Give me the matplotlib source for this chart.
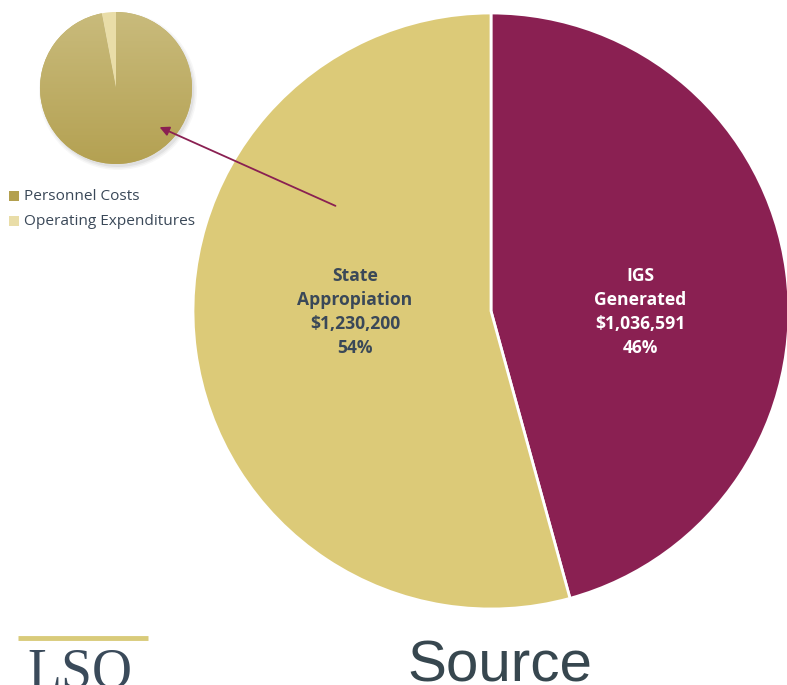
import matplotlib
matplotlib.use("Agg")
import matplotlib.pyplot as plt
import numpy as np
from matplotlib.colors import LinearSegmentedColormap
from matplotlib.patches import Rectangle, Circle

# Data
main_labels = ["IGS\nGenerated\n$1,036,591\n46%", "State\nAppropiation\n$1,230,200\n54%"]
main_values = [1036591, 1230200]
main_colors = ["#8A2052", "#DCCA78"]
sub_labels = ["Personnel Costs", "Operating Expenditures"]
sub_values = [97, 3]
sub_colors = ["#BFAE62", "#E9DDA8"]

W, H = 787, 685
fig = plt.figure(figsize=(7.87, 6.85), dpi=100)
ax = fig.add_axes([0, 0, 1, 1])

# Main pie
wedges, _ = ax.pie(main_values, colors=main_colors, startangle=90, counterclock=False,
                   center=(491, H - 311), radius=298,
                   wedgeprops=dict(edgecolor="white", linewidth=2))

# Small pie shadow
for i, a in enumerate([0.05, 0.04, 0.03]):
    ax.add_patch(Circle((118, H - 91), 76 + i * 1.5, color="#000000", alpha=a, lw=0, zorder=0.5))

swedges, _ = ax.pie(sub_values, colors=sub_colors, startangle=90, counterclock=False,
                    center=(116, H - 88), radius=76,
                    wedgeprops=dict(edgecolor="none", linewidth=0))
# gradient on personnel wedge
cmap = LinearSegmentedColormap.from_list("g", ["#C9BB7C", "#B4A152"])
grad = np.linspace(0, 1, 256).reshape(-1, 1)
im = ax.imshow(grad, cmap=cmap, extent=(40, 192, H - 164, H - 12), origin="upper",
               aspect="auto", zorder=2)
im.set_clip_path(swedges[0])

ax.set_xlim(0, W)
ax.set_ylim(0, H)
ax.set_aspect("auto")
ax.axis("off")

# Labels
ax.text(355, H - 312, main_labels[1], ha="center", va="center", fontsize=12.6,
        fontweight="bold", color="#3A4858", family="Open Sans", linespacing=1.42)
ax.text(640, H - 312, main_labels[0], ha="center", va="center", fontsize=12.6,
        fontweight="bold", color="white", family="Open Sans", linespacing=1.42)

# Arrow
ax.annotate("", xy=(157, H - 126), xytext=(338, H - 207),
            arrowprops=dict(arrowstyle="-|>", color="#8A2052", lw=1.3, mutation_scale=14))

# Legend
for i, (lab, c) in enumerate(zip(sub_labels, sub_colors)):
    y = H - 196 - i * 25
    ax.add_patch(Rectangle((9, y - 5), 10, 10, color=["#B3A04F", "#E9DDA8"][i], lw=0))
    ax.text(24, y, lab, ha="left", va="center", fontsize=11.1, color="#3A4858",
            family="Open Sans")

# Footer
ax.plot([18, 148], [H - 638, H - 638], color="#D9CB7A", lw=3.5, solid_capstyle="butt")
ax.text(80, H - 687, "LSO", ha="center", va="baseline", fontsize=40, color="#3A4A5A",
        family="Liberation Serif")
ax.text(500, H - 682, "Source", ha="center", va="baseline", fontsize=42, color="#37474F",
        family="Liberation Sans")

fig.savefig("out.png", dpi=100)
